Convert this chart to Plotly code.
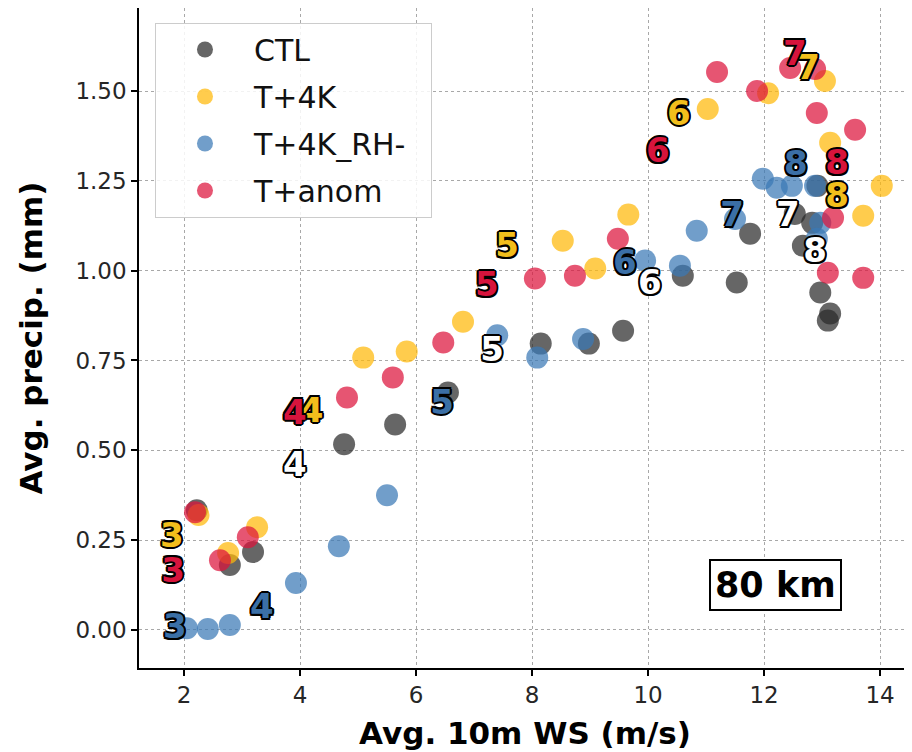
import plotly.graph_objects as go

# ---------------- data ----------------
ctl_x = [2.22, 2.79, 3.19, 4.76, 5.64, 6.55, 8.15, 8.98, 9.57, 10.60, 11.53, 11.76,
         12.53, 12.83, 12.67, 12.97, 13.14, 13.10, 12.92]
ctl_y = [0.333, 0.181, 0.217, 0.517, 0.572, 0.661, 0.797, 0.797, 0.833, 0.986, 0.967, 1.103,
         1.158, 1.133, 1.069, 0.939, 0.881, 0.861, 1.236]

t4k_x = [2.25, 2.76, 3.26, 5.09, 5.84, 6.81, 8.53, 9.09, 9.66, 11.03, 12.07, 13.05, 13.14, 14.03, 13.71]
t4k_y = [0.320, 0.214, 0.286, 0.758, 0.775, 0.858, 1.083, 1.006, 1.156, 1.450, 1.494, 1.528, 1.356, 1.236, 1.153]

rh_x = [2.05, 2.41, 2.79, 3.93, 4.67, 5.50, 7.40, 8.09, 8.88, 9.95, 10.55, 10.84, 11.50,
        11.98, 12.22, 12.48, 12.88, 12.97, 12.91]
rh_y = [0.005, 0.003, 0.014, 0.131, 0.233, 0.375, 0.820, 0.758, 0.810, 1.028, 1.014, 1.111, 1.144,
        1.256, 1.231, 1.236, 1.236, 1.133, 1.089]

anom_x = [2.19, 2.62, 3.10, 4.81, 5.60, 6.47, 8.05, 8.74, 9.48, 11.19, 11.88, 12.45, 12.88,
          12.91, 13.57, 13.19, 13.10, 13.71]
anom_y = [0.328, 0.194, 0.258, 0.647, 0.703, 0.800, 0.978, 0.986, 1.089, 1.553, 1.500, 1.564, 1.561,
          1.439, 1.392, 1.147, 0.994, 0.980]

# hour labels
ctl_lab = ["4", "5", "6", "7", "8"]
ctl_lab_x = [3.91, 7.31, 10.03, 12.41, 12.88]
ctl_lab_y = [0.453, 0.772, 0.958, 1.147, 1.047]

t4k_lab = ["3", "4", "5", "6", "7", "8"]
t4k_lab_x = [1.79, 4.20, 7.57, 10.53, 12.76, 13.26]
t4k_lab_y = [0.256, 0.603, 1.061, 1.430, 1.556, 1.200]

rh_lab = ["3", "4", "5", "6", "7", "8"]
rh_lab_x = [1.84, 3.34, 6.45, 9.60, 11.45, 12.55]
rh_lab_y = [0.000, 0.056, 0.625, 1.014, 1.147, 1.289]

anom_lab = ["3", "4", "5", "6", "7", "8"]
anom_lab_x = [1.81, 3.91, 7.22, 10.17, 12.53, 13.26]
anom_lab_y = [0.158, 0.597, 0.953, 1.325, 1.597, 1.292]

x_ticks = [2, 4, 6, 8, 10, 12, 14]
y_ticks = [0.0, 0.25, 0.5, 0.75, 1.0, 1.25, 1.5]
y_ticktext = ["0.00", "0.25", "0.50", "0.75", "1.00", "1.25", "1.50"]

series = [
    ("CTL", ctl_x, ctl_y, "#2b2b2b", ctl_lab, ctl_lab_x, ctl_lab_y, "#ffffff"),
    ("T+4K", t4k_x, t4k_y, "#ffb808", t4k_lab, t4k_lab_x, t4k_lab_y, "#f2be1c"),
    ("T+4K_RH-\u00a0\u00a0", rh_x, rh_y, "#3a78b5", rh_lab, rh_lab_x, rh_lab_y, "#3b6fa6"),
    ("T+anom", anom_x, anom_y, "#dc143c", anom_lab, anom_lab_x, anom_lab_y, "#d7143c"),
]

FONT = "DejaVu Sans"
outline = ", ".join(f"{dx}px {dy}px 0 #000" for dx, dy in
                    [(-2, 0), (2, 0), (0, -2), (0, 2), (-1.5, -1.5), (1.5, -1.5), (-1.5, 1.5), (1.5, 1.5)])

fig = go.Figure()
for i, (name, xs, ys, col, *_r) in enumerate(series):
    fig.add_trace(go.Scatter(
        x=xs, y=ys, mode="markers", name=name, legendgroup=f"g{i}",
        marker=dict(size=22, color=col, opacity=0.72, line=dict(width=0)),
    ))
for name, xs, ys, col, lab, lx, ly, lcol in series:
    fig.add_trace(go.Scatter(
        x=lx, y=ly, mode="text", text=lab, showlegend=False,
        textfont=dict(family=FONT, size=34, color=lcol, weight="bold", shadow=outline),
        textposition="middle center",
    ))

axis_common = dict(
    showline=True, linecolor="black", linewidth=1.5, mirror=True,
    ticks="outside", ticklen=6, tickwidth=1.5, tickcolor="black",
    showgrid=True, gridcolor="#a8a8a8", griddash="dot", gridwidth=1,
    zeroline=False, tickfont=dict(family=FONT, size=23, color="#262626"),
    automargin=False,
)

# The page body adds an 8px margin, so the figure is sized 8px smaller than the window.
fig.update_layout(
    width=904, height=744,
    margin=dict(l=131, r=1, t=0, b=84),
    plot_bgcolor="white", paper_bgcolor="white",
    font=dict(family=FONT, color="black"),
    xaxis=dict(range=[1.224, 14.534], tickvals=x_ticks,
               title=dict(text="<b>Avg. 10m WS (m/s)</b>", font=dict(size=31), standoff=15),
               **axis_common),
    yaxis=dict(range=[-0.1058, 1.731], tickvals=y_ticks, ticktext=y_ticktext,
               title=dict(text="<b>Avg. precip. (mm)</b>", font=dict(size=31), standoff=24),
               **axis_common),
    legend=dict(x=0.0207, y=0.978, xanchor="left", yanchor="top",
                bgcolor="rgba(255,255,255,0.85)", bordercolor="#cccccc", borderwidth=1,
                font=dict(family=FONT, size=30, color="#111111"),
                itemsizing="trace", itemwidth=88, tracegroupgap=5),
    showlegend=True,
    annotations=[dict(
        x=0.8245, y=0.1254, xref="paper", yref="paper", xanchor="center", yanchor="middle",
        text="<b>80 km</b>", showarrow=False,
        font=dict(family=FONT, size=35, color="black"),
        bgcolor="white", bordercolor="black", borderwidth=2, borderpad=4,
    )],
)

fig.write_html("out.html")
